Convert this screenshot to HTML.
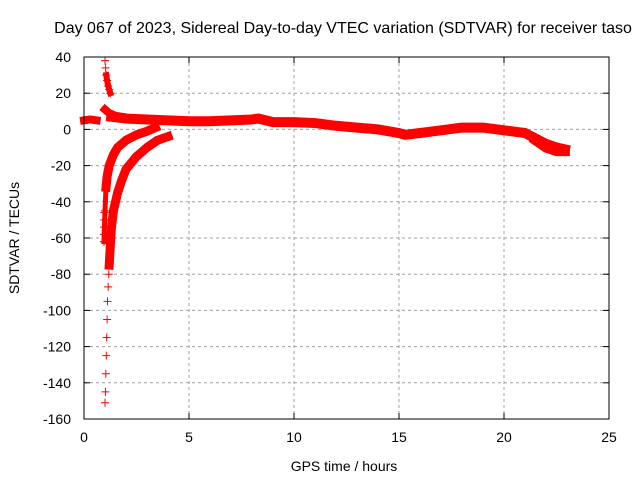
<!DOCTYPE html>
<html><head><meta charset="utf-8"><style>
body{margin:0;background:#fff}
svg text{font-family:"Liberation Sans",sans-serif;font-size:14px;fill:#000}
</style></head><body>
<svg id="chart" width="640" height="480" viewBox="0 0 640 480" xmlns="http://www.w3.org/2000/svg">
<rect width="640" height="480" fill="#fff"/>
<g id="grid"></g><g id="data"></g><g id="axes"></g>
<text x="343" y="33" text-anchor="middle" style="font-size:16px">Day 067 of 2023, Sidereal Day-to-day VTEC variation (SDTVAR) for receiver taso</text>
<text x="344" y="471" text-anchor="middle">GPS time / hours</text>
<text transform="translate(19,238) rotate(-90)" text-anchor="middle">SDTVAR / TECUs</text>
</svg>
<script>
const xTicks=[0,5,10,15,20,25];
const yTicks=[40,20,0,-20,-40,-60,-80,-100,-120,-140,-160];
const mainT=[1.3,2,3,4,5,6,7,8,8.3,9,10,11,12,13,14,15,15.3,16,17,18,19,20,21,21.5,22,22.5,22.9];
const mainV=[7,6,5.5,5,4.5,4.5,5,5.5,6,4,4,3.5,2,1,0,-2,-3,-2,-0.5,1,1,-0.5,-2,-5,-8,-10,-11];
const tailT=[21.5,22,22.5,22.9];
const tailV=[-6,-10,-12,-12];
const leftT=[0,0.3,0.6];
const leftV=[5,5.5,5];
const upT=[1.0,1.03,1.06,1.1,1.15,1.2,1.25];
const upV=[38,34,30,27,24,22,20];
const nearT=[1.0,1.2,1.5,1.8];
const nearV=[11,9,7.5,7];
const aT=[0.95,1.0,1.05,1.1,1.2,1.4,1.6,2.0,2.5,3.0,3.4];
const aV=[-62,-45,-32,-26,-20,-14,-10,-6,-3,-1,1];
const bT=[1.2,1.3,1.4,1.6,1.8,2.0,2.5,3.0,3.5,4.0];
const bV=[-75,-55,-45,-35,-28,-22,-15,-10,-6,-4];
const bSparseT=[1.0,1.02,1.04,1.06,1.08,1.1,1.12,1.15,1.18];
const bSparseV=[-151,-145,-135,-125,-115,-105,-95,-87,-80];
const aSparseT=[0.95,0.95,0.95,0.96,0.97];
const aSparseV=[-62,-58,-54,-50,-46];
const L=84,R=609,T=57,B=419;
const X=t=>L+(t-0)/(25-0)*(R-L);
const Y=v=>T+(40-v)/(40-(-160))*(B-T);
const NS="http://www.w3.org/2000/svg";
function mk(tag,attrs,parent){const e=document.createElementNS(NS,tag);for(const k in attrs)e.setAttribute(k,attrs[k]);parent.appendChild(e);return e;}
const grid=document.getElementById('grid'),axes=document.getElementById('axes'),data=document.getElementById('data');
xTicks.forEach(t=>{
  if(t>0&&t<25){const g=mk('line',{x1:X(t),x2:X(t),y1:T,y2:B,stroke:'#a0a0a0','stroke-dasharray':'3,3'},grid);
  
  }
  const tk=mk('line',{x1:X(t),x2:X(t),y1:B,y2:B-6,stroke:'#000'},axes);
  
  
  const tk2=mk('line',{x1:X(t),x2:X(t),y1:T,y2:T+6,stroke:'#000'},axes);
  
  
  const lb=mk('text',{x:X(t),y:B+23,'text-anchor':'middle'},axes);lb.textContent=t;
  
  
});
yTicks.forEach(v=>{
  if(v<40&&v>-160){const g=mk('line',{x1:L,x2:R,y1:Y(v),y2:Y(v),stroke:'#a0a0a0','stroke-dasharray':'3,3'},grid);
  
  }
  const tk=mk('line',{x1:L,x2:L+6,y1:Y(v),y2:Y(v),stroke:'#000'},axes);
  
  
  const tk2=mk('line',{x1:R,x2:R-6,y1:Y(v),y2:Y(v),stroke:'#000'},axes);
  
  
  const lb=mk('text',{x:L-13,y:Y(v)+5,'text-anchor':'end'},axes);lb.textContent=v;
  
  
});
const fr=mk('rect',{x:L,y:T,width:R-L,height:B-T,fill:'none',stroke:'#000'},axes);


function band(ts,vs,w,name){
  const p=mk('polyline',{points:ts.map((t,i)=>X(t)+','+Y(vs[i])).join(' '),fill:'none',stroke:'#f00','stroke-width':w,'stroke-linejoin':'round','stroke-linecap':'square'},data);
  
  
}
function pluses(ts,vs,name){
  ts.forEach((t,i)=>{
    const p=mk('path',{d:`M${X(t)-4},${Y(vs[i])}h8M${X(t)},${Y(vs[i])-4}v8`,stroke:'#f00','stroke-width':1},data);
    
    
  });
}
band(mainT,mainV,10,'main-series-band');
band(tailT,tailV,10,'end-series-spread');
band(leftT,leftV,8,'early-series-segment');
band(nearT,nearV,8,'near-zero-branch');
band(aT.slice(2),aV.slice(2),9,'upper-decay-curve');
band(aT.slice(0,3),aV.slice(0,3),5,'upper-decay-tail');
band(bT,bV,9,'lower-decay-curve');
band(upT.slice(2),upV.slice(2),6,'positive-decay-curve');
pluses(upT,upV,'positive-decay-marker');
pluses(aT,aV,'upper-decay-marker');
pluses(aSparseT,aSparseV,'upper-decay-marker');
pluses(bSparseT,bSparseV,'lower-decay-marker');
</script>
</body></html>
